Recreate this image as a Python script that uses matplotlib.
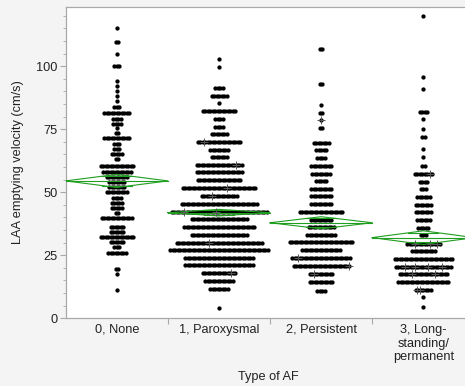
import numpy as np
import matplotlib
matplotlib.use("Agg")
import matplotlib.pyplot as plt
from matplotlib.ticker import FixedLocator, MultipleLocator, NullFormatter

plt.rcParams['font.family'] = ['Liberation Sans', 'DejaVu Sans']

categories = ["0, None", "1, Paroxysmal", "2, Persistent", "3, Long-\nstanding/\npermanent"]

g0_vals = [115, 109.4, 105, 100, 94.2, 92.2, 90.2, 88.2, 86.1, 83.7, 81.6, 79.2, 77.2, 75.4, 73.4,
           71.4, 69.3, 67.3, 65.2, 63.1, 60.6, 58.2, 56.2, 54, 52.1, 50, 47.9, 45.9, 43.9, 41.7,
           39.7, 36.1, 34.4, 32.1, 30.2, 28.2, 25.8, 19.6, 17.5, 11.1]
g0_counts = [1, 2, 1, 3, 1, 1, 1, 1, 1, 3, 11, 4, 4, 1, 2,
             11, 3, 3, 5, 2, 14, 12, 9, 7, 7, 9, 4, 5, 5, 2,
             13, 6, 6, 14, 6, 3, 8, 2, 1, 1]

g1_vals = [102.9, 99.8, 91.3, 88.3, 85.3, 82.3, 79.1, 75.9, 73, 70, 66.9, 63.9, 60.7, 57.9, 54.8,
           51.6, 48.4, 45.4, 42.3, 39.4, 36.2, 33.2, 30, 27, 24, 21, 17.9, 14.8, 11.7, 4]
g1_counts = [1, 1, 4, 7, 1, 14, 4, 4, 7, 18, 8, 7, 19, 19, 18,
             30, 15, 31, 39, 23, 29, 23, 35, 40, 28, 28, 14, 12, 8, 1]

g2_vals = [106.9, 93, 84.6, 81.6, 78.6, 75.4, 69.7, 66.8, 63.7, 60.4, 57.4, 54.5, 51.3, 48.4, 45.4,
           42.2, 39.1, 36.1, 33, 30.2, 27, 23.9, 20.8, 17.6, 14.5, 11]
g2_counts = [2, 2, 1, 2, 1, 2, 7, 5, 4, 9, 8, 5, 9, 9, 9,
             18, 9, 11, 12, 26, 16, 24, 23, 10, 10, 4]

g3_vals = [120, 95.9, 90.9, 82, 79.1, 75.1, 72.1, 67.1, 64.1, 60.4, 57.3, 54.2, 51.2, 48, 45.1,
           42.1, 39, 36, 32.9, 29.6, 26.6, 23.7, 20.5, 17.5, 14.3, 11.2, 8.3, 4.4]
g3_counts = [1, 1, 1, 4, 1, 1, 2, 1, 1, 2, 8, 4, 3, 6, 7,
             7, 6, 5, 3, 14, 10, 24, 23, 20, 21, 7, 1, 1]

means = [54.5, 41.9, 37.9, 32.0]
ci_half = [2.6, 1.3, 2.4, 2.7]

plus_group = [1, 1, 1, 1, 1, 1, 1, 1, 2, 2, 2, 2, 3, 3, 3, 3, 3, 3, 3, 3, 3, 3, 3, 3]
plus_offset = [-0.143, 0.166, 0.078, -0.065, -0.342, -0.029, -0.098, 0.117,
               0.0, -0.225, 0.274, -0.068,
               0.068, -0.078, 0.068, 0.132, -0.176, -0.078, 0.049, 0.181, -0.113, 0.117, -0.064, -0.029]
plus_value = [70, 60.7, 51.6, 48.4, 42.3, 42.3, 30, 17.9,
              78.6, 23.9, 20.8, 17.6,
              57.3, 29.6, 29.6, 29.6, 20.5, 20.5, 20.5, 20.5, 17.5, 17.5, 11.2, 11.2]

groups_vals = [g0_vals, g1_vals, g2_vals, g3_vals]
groups_counts = [g0_counts, g1_counts, g2_counts, g3_counts]

W, H = 465, 386
fig = plt.figure(figsize=(W / 100, H / 100), dpi=100, facecolor='#f4f4f4')
left_px, right_px, top_px, bot_px = 65.7, 474.5, 6.7, 318.3
ax = fig.add_axes([left_px / W, (H - bot_px) / H, (right_px - left_px) / W, (bot_px - top_px) / H])
ax.set_facecolor('white')
ax.set_xlim(-0.5, 3.5)
ax.set_ylim(0, 123.6)

dx = 2.5 / 102.2
for g, (vals, cnts) in enumerate(zip(groups_vals, groups_counts)):
    xs, ys = [], []
    for v, n in zip(vals, cnts):
        xs.extend(g + (np.arange(n) - (n - 1) / 2) * dx)
        ys.extend([v] * n)
    ax.scatter(xs, ys, s=9.5, color='black', linewidths=0, zorder=2)

green = '#1f9e1f'
for g, (m, c) in enumerate(zip(means, ci_half)):
    xl, xr = g - 0.5, g + 0.5
    ax.plot([xl, g, xr, g, xl], [m, m + c, m, m - c, m], color=green, lw=0.8, zorder=3)
    ax.plot([xl, xr], [m, m], color=green, lw=0.8, zorder=3)
    o = c / np.sqrt(2)
    half = 0.5 * (1 - o / c)
    ax.plot([g - half, g + half], [m + o, m + o], color=green, lw=0.8, zorder=3)
    ax.plot([g - half, g + half], [m - o, m - o], color=green, lw=0.8, zorder=3)

px = [g + o for g, o in zip(plus_group, plus_offset)]
ax.plot(px, plus_value, linestyle='none', marker='+', markersize=6, mew=0.7, color='#555555', zorder=4)

spine_c = '#a8a8a8'
for s in ax.spines.values():
    s.set_color(spine_c)
    s.set_linewidth(0.9)

ax.yaxis.set_major_locator(FixedLocator([0, 25, 50, 75, 100]))
ax.yaxis.set_minor_locator(MultipleLocator(5))
ax.tick_params(axis='y', which='major', length=4, color=spine_c, labelsize=9.2, labelcolor='#222222', pad=2)
ax.tick_params(axis='y', which='minor', length=2.5, color=spine_c)

ax.xaxis.set_major_locator(FixedLocator([0.5, 1.5, 2.5]))
ax.xaxis.set_major_formatter(NullFormatter())
ax.xaxis.set_minor_locator(FixedLocator([0, 1, 2, 3]))
ax.set_xticklabels(categories, minor=True)
ax.tick_params(axis='x', which='major', length=4, color=spine_c)
ax.tick_params(axis='x', which='minor', length=0, labelsize=9.2, labelcolor='#222222', pad=4)
for lbl in ax.get_xticklabels(minor=True):
    lbl.set_linespacing(1.2)

ax.set_ylabel("LAA emptying velocity (cm/s)", fontsize=9.2, color='#222222')
ax.yaxis.set_label_coords(-0.103, 0.5)
ax.set_xlabel("Type of AF", fontsize=9.2, color='#222222')
ax.xaxis.set_label_coords(0.495, -0.168)

fig.savefig("out.png", dpi=100, facecolor=fig.get_facecolor())
